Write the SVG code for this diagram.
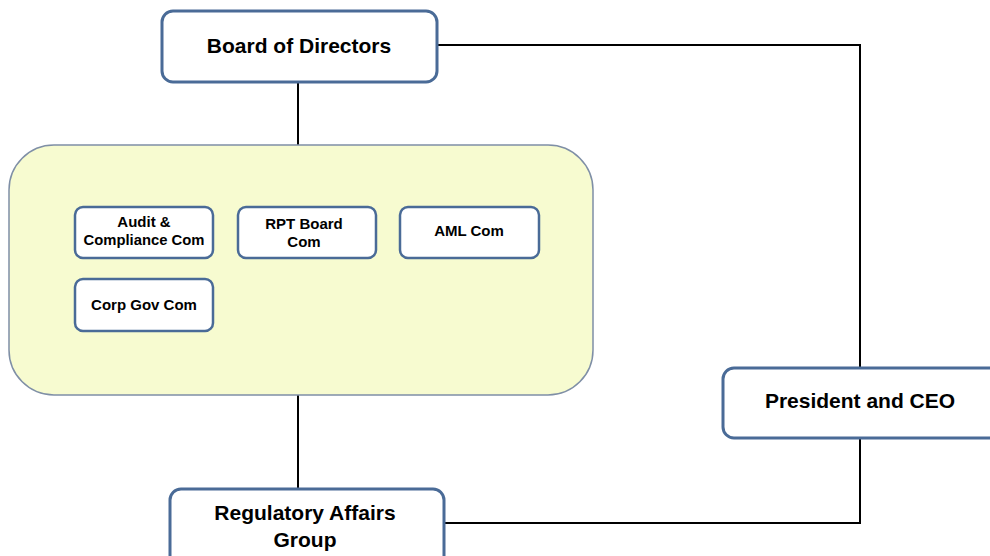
<svg xmlns="http://www.w3.org/2000/svg" width="990" height="556" viewBox="0 0 990 556">
<style>
.box{fill:#ffffff;stroke:#4a6b97;stroke-width:3}
.sbox{fill:#ffffff;stroke:#4a6b97;stroke-width:2.5}
.big{font-family:"Liberation Sans",Arial,sans-serif;font-weight:bold;font-size:21px;fill:#000;text-anchor:middle}
.small{font-family:"Liberation Sans",Arial,sans-serif;font-weight:bold;font-size:15px;fill:#000;text-anchor:middle}
.conn{fill:none;stroke:#000;stroke-width:2}
</style>
<rect width="990" height="556" fill="#ffffff"/>
<g id="connectors">
<path class="conn" d="M298 82V145"/>
<path class="conn" d="M298 395V489"/>
<path class="conn" d="M437 45H860V368"/>
<path class="conn" d="M860 438V523H444"/>
</g>
<g id="committees">
<rect x="9" y="145" width="584" height="250" rx="45" fill="#f7fbd0" stroke="#7f8fa6" stroke-width="1.5"/>
</g>
<g id="board">
<rect class="box" x="162" y="11" width="275" height="71" rx="11"/>
<text class="big" x="299" y="53">Board of Directors</text>
</g>
<g id="audit">
<rect class="sbox" x="75" y="207" width="138" height="51" rx="8"/>
<text class="small" x="144" y="227">Audit &amp;</text>
<text class="small" x="144" y="245" textLength="121" lengthAdjust="spacingAndGlyphs">Compliance Com</text>
</g>
<g id="rpt">
<rect class="sbox" x="238" y="207" width="138" height="51" rx="8"/>
<text class="small" x="304" y="229">RPT Board</text>
<text class="small" x="304" y="247">Com</text>
</g>
<g id="aml">
<rect class="sbox" x="400" y="207" width="139" height="51" rx="8"/>
<text class="small" x="469" y="236">AML Com</text>
</g>
<g id="corpgov">
<rect class="sbox" x="75" y="279" width="138" height="52" rx="8"/>
<text class="small" x="144" y="310">Corp Gov  Com</text>
</g>
<g id="ceo">
<rect class="box" x="723" y="368" width="280" height="70" rx="11"/>
<text class="big" x="860" y="408">President and CEO</text>
</g>
<g id="regulatory">
<rect class="box" x="170" y="489" width="274" height="80" rx="11"/>
<text class="big" x="305" y="520">Regulatory  Affairs</text>
<text class="big" x="305" y="547">Group</text>
</g>
</svg>
